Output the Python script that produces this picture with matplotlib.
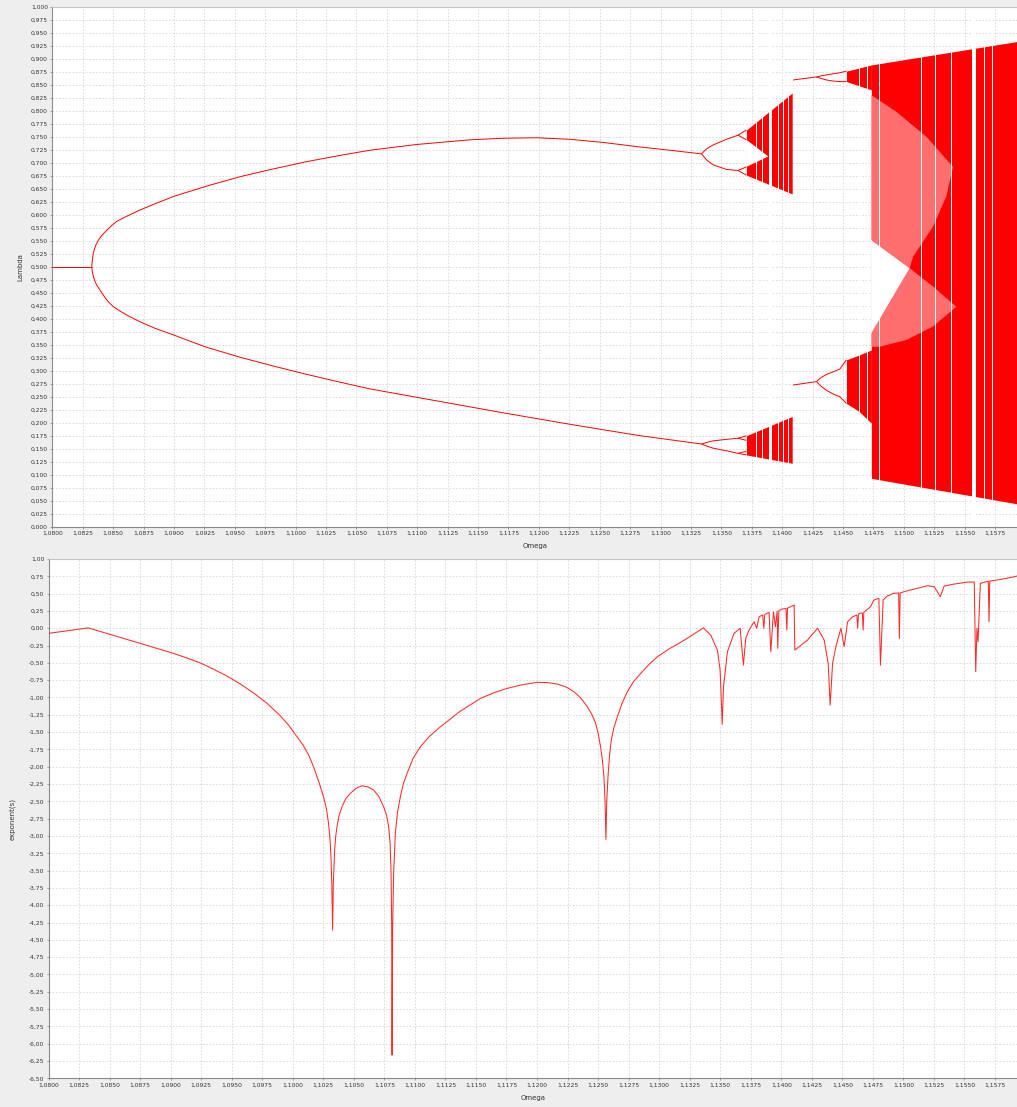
import matplotlib
matplotlib.use("Agg")
import matplotlib.pyplot as plt
from matplotlib.ticker import MultipleLocator, FuncFormatter

# ---------------- bifurcation diagram (Lambda vs Omega) ----------------
fixed_omega = [1.0800, 1.08324]
fixed_lam = [0.500, 0.500]

p2_up_omega = [1.08324, 1.08329, 1.08337, 1.08349, 1.08361, 1.08379, 1.08406, 1.08447,
               1.08488, 1.08529, 1.08598, 1.08721, 1.08844, 1.08995, 1.09269, 1.09542,
               1.09816, 1.10090, 1.10364, 1.10611, 1.10994, 1.11432, 1.11706, 1.11980,
               1.12254, 1.12528, 1.12802, 1.13076, 1.13336]
p2_up_lam = [0.500, 0.512, 0.526, 0.536, 0.543, 0.551, 0.560, 0.570,
             0.579, 0.587, 0.5955, 0.609, 0.621, 0.635, 0.655, 0.673,
             0.688, 0.702, 0.714, 0.724, 0.735, 0.744, 0.747, 0.748,
             0.745, 0.739, 0.731, 0.724, 0.717]
p2_lo_omega = [1.08324, 1.08329, 1.08338, 1.08349, 1.08365, 1.08392, 1.08423, 1.08455,
               1.08502, 1.08554, 1.08620, 1.08721, 1.08850, 1.08995, 1.09129, 1.09269,
               1.09542, 1.09816, 1.10090, 1.10364, 1.10611, 1.11159, 1.11706, 1.12254,
               1.12802, 1.13336]
p2_lo_lam = [0.500, 0.490, 0.481, 0.473, 0.465, 0.455, 0.444, 0.434,
             0.423, 0.415, 0.406, 0.394, 0.381, 0.369, 0.357, 0.345,
             0.326, 0.309, 0.293, 0.278, 0.265, 0.242, 0.219, 0.197,
             0.176, 0.159]

p4_omega = [1.13336, 1.13380, 1.13431, 1.13542, 1.13637]
p4_branches = [
    [0.717, 0.727, 0.734, 0.745, 0.753],
    [0.717, 0.705, 0.696, 0.687, 0.685],
    [0.159, 0.162, 0.165, 0.168, 0.170],
    [0.159, 0.155, 0.151, 0.146, 0.141],
]
p8_omega = [1.13637, 1.13706]
p8_branches = [
    [0.753, 0.763], [0.753, 0.744],
    [0.685, 0.692], [0.685, 0.676],
    [0.170, 0.175], [0.170, 0.166],
    [0.141, 0.145], [0.141, 0.138],
]

# first chaotic interval
band1_omega = [1.13706, 1.14082]
band1_up_hi = [0.763, 0.834]
band1_up_lo = [0.676, 0.640]
band1_dn_hi = [0.175, 0.212]
band1_dn_lo = [0.138, 0.122]
hole1_omega = [1.13706, 1.13706, 1.13886]
hole1_lam = [0.744, 0.692, 0.712]

# second periodic branch and its doubling
r2_omega = [1.14089, 1.14281]
r2_top = [0.859, 0.865]
r2_bot = [0.2725, 0.279]
lens_omega = [1.14281, 1.14320, 1.14366, 1.14420, 1.14473, 1.14528]
lens_top_hi = [0.865, 0.867, 0.869, 0.871, 0.873, 0.876]
lens_top_lo = [0.865, 0.862, 0.859, 0.857, 0.856, 0.856]
lens_bot_hi = [0.279, 0.287, 0.293, 0.298, 0.303, 0.321]
lens_bot_lo = [0.279, 0.270, 0.262, 0.255, 0.250, 0.237]

band2_omega = [1.14528, 1.14630, 1.14733]
band2_up_hi = [0.876, 0.882, 0.888]
band2_up_lo = [0.856, 0.848, 0.840]
band2_dn_hi = [0.321, 0.330, 0.340]
band2_dn_lo = [0.237, 0.222, 0.199]

# fully developed chaos
band3_omega = [1.14733, 1.15930]
band3_hi = [0.888, 0.933]
band3_lo = [0.093, 0.044]
wedge_omega = [1.14733, 1.15048, 1.14733]
wedge_lam = [0.551, 0.497, 0.372]

sparse_a_omega = [1.14733, 1.14938, 1.15185, 1.15404, 1.15349, 1.15239, 1.15075, 1.15048, 1.14733]
sparse_a_lam = [0.830, 0.798, 0.750, 0.692, 0.635, 0.577, 0.519, 0.497, 0.551]
sparse_b_omega = [1.14733, 1.15048, 1.15239, 1.15431, 1.15239, 1.15021, 1.14801, 1.14733]
sparse_b_lam = [0.372, 0.497, 0.462, 0.423, 0.385, 0.359, 0.346, 0.346]

# periodic windows inside the chaotic bands
window_start = [1.13784, 1.13833, 1.13892, 1.13962, 1.14003, 1.14044,
                1.14633, 1.14701, 1.14792, 1.15140, 1.15257, 1.15386,
                1.15557, 1.15660, 1.15728]
window_end = [1.13792, 1.13841, 1.13919, 1.13970, 1.14011, 1.14052,
              1.14641, 1.14709, 1.14800, 1.15148, 1.15265, 1.15394,
              1.15590, 1.15668, 1.15736]

# ---------------- Lyapunov exponent ----------------
lyap_omega = [
    1.08000, 1.08326, 1.08477, 1.08750, 1.09023, 1.09130, 1.09242, 1.09350, 1.09461,
    1.09570, 1.09679, 1.09790,
    1.09898, 1.09966, 1.10034, 1.10085, 1.10130, 1.10170, 1.10210, 1.10252, 1.10275,
    1.10293, 1.10305, 1.10313, 1.10320, 1.10326, 1.10332, 1.10343, 1.10352, 1.10362,
    1.10380, 1.10403, 1.10435, 1.10471, 1.10520, 1.10567, 1.10615, 1.10662, 1.10705,
    1.10744, 1.10768, 1.10785, 1.10797, 1.10805, 1.10810, 1.10813, 1.10818, 1.10826,
    1.10840, 1.10858, 1.10881, 1.10905, 1.10936, 1.10985, 1.11045, 1.11120, 1.11209,
    1.11370, 1.11537, 1.11650, 1.11756, 1.11880, 1.12002, 1.12090, 1.12166, 1.12240,
    1.12302, 1.12360, 1.12412, 1.12450, 1.12480, 1.12502, 1.12520, 1.12535, 1.12548,
    1.12557, 1.12564, 1.12571, 1.12581, 1.12593, 1.12608, 1.12630, 1.12658, 1.12695,
    1.12740, 1.12790, 1.12850, 1.12915, 1.12986, 1.13080, 1.13184, 1.13270, 1.13362,
    1.13422, 1.13477, 1.13499, 1.13510, 1.13516, 1.13527, 1.13559, 1.13613, 1.13663,
    1.13690, 1.13709, 1.13736, 1.13777, 1.13799, 1.13818, 1.13848, 1.13857, 1.13865,
    1.13900, 1.13914, 1.13936, 1.13952, 1.13966, 1.13971, 1.13980, 1.13999, 1.14039,
    1.14045, 1.14051, 1.14105, 1.14111, 1.14215, 1.14297, 1.14351, 1.14384, 1.14400,
    1.14420, 1.14447, 1.14488, 1.14515, 1.14543, 1.14584, 1.14619, 1.14625, 1.14632,
    1.14639, 1.14664, 1.14670, 1.14676, 1.14731, 1.14758, 1.14799, 1.14812, 1.14834,
    1.14867, 1.14920, 1.14961, 1.14967, 1.14973, 1.15034, 1.15089, 1.15198, 1.15252,
    1.15302, 1.15334, 1.15416, 1.15526, 1.15580, 1.15592, 1.15602, 1.15611, 1.15630,
    1.15679, 1.15695, 1.15701, 1.15707, 1.15799, 1.15908, 1.15930]
lyap_value = [
    -0.074, 0.005, -0.074, -0.218, -0.363, -0.428, -0.500, -0.590, -0.690,
    -0.805, -0.935, -1.085,
    -1.265, -1.400, -1.567, -1.690, -1.831, -2.000, -2.200, -2.434, -2.600,
    -2.818, -3.050, -3.300, -3.700, -4.359, -3.700, -3.200, -3.000, -2.867,
    -2.700, -2.578, -2.460, -2.385, -2.310, -2.275, -2.290, -2.337, -2.430,
    -2.578, -2.700, -2.867, -3.100, -3.540, -4.300, -6.164, -4.300, -3.540,
    -2.962, -2.650, -2.434, -2.250, -2.096, -1.880, -1.711, -1.560, -1.423,
    -1.200, -1.013, -0.930, -0.868, -0.815, -0.781, -0.786, -0.806, -0.850,
    -0.917, -1.010, -1.134, -1.250, -1.374, -1.530, -1.711, -1.900, -2.145,
    -2.500, -3.049, -2.500, -2.145, -1.850, -1.615, -1.430, -1.278, -1.090,
    -0.917, -0.770, -0.651, -0.525, -0.412, -0.300, -0.195, -0.100, 0.005,
    -0.098, -0.315, -0.604, -1.085, -1.388, -0.845, -0.339, -0.074, 0.000,
    -0.531, -0.146, -0.026, 0.094, 0.000, 0.166, 0.191, 0.000, 0.200,
    0.230, -0.339, 0.238, 0.020, 0.248, -0.290, 0.250, 0.273, 0.287,
    -0.026, 0.290, 0.335, -0.315, -0.170, 0.000, -0.170, -0.507, -1.109,
    -0.507, -0.267, 0.000, -0.267, 0.094, 0.166, 0.190, 0.000, 0.200,
    0.215, 0.220, -0.026, 0.230, 0.311, 0.407, 0.432, -0.531, 0.407,
    0.465, 0.504, 0.510, -0.146, 0.510, 0.542, 0.566, 0.614, 0.600,
    0.455, 0.610, 0.638, 0.667, 0.667, -0.628, 0.000, -0.195, 0.648,
    0.672, 0.680, 0.094, 0.680, 0.706, 0.744, 0.754]

OMEGA_MIN, OMEGA_MAX = 1.0800, 1.1593

RED = "#ff0000"
SPARSE = "#ff6f6f"
BG = "#eeeeee"
GRID = "#d6d6d6"
AXIS = "#8a8a8a"
TEXT = "#333333"

W, H = 1017, 1107
fig = plt.figure(figsize=(W / 100, H / 100), dpi=100, facecolor=BG)


def px_axes(left, top, right, bottom):
    return fig.add_axes([left / W, 1 - bottom / H, (right - left) / W, (bottom - top) / H])


def comma(decimals):
    def fmt(v, _pos):
        v = round(v, decimals)
        if v == 0:
            v = 0.0
        return f"{v:.{decimals}f}".replace(".", ",")
    return FuncFormatter(fmt)


def style(ax, ystep, ydec, ylabel, ylabel_x):
    ax.set_facecolor("white")
    ax.set_xlim(OMEGA_MIN, OMEGA_MAX)
    ax.xaxis.set_major_locator(MultipleLocator(0.0025))
    ax.yaxis.set_major_locator(MultipleLocator(ystep))
    ax.xaxis.set_major_formatter(comma(4))
    ax.yaxis.set_major_formatter(comma(ydec))
    ax.set_axisbelow(True)
    ax.grid(True, color=GRID, linestyle=(0, (2.0, 2.0)), linewidth=0.6)
    ax.spines["right"].set_visible(False)
    ax.spines["top"].set_color("#c4c4c4")
    ax.spines["top"].set_linewidth(0.8)
    for s in ("left", "bottom"):
        ax.spines[s].set_color(AXIS)
        ax.spines[s].set_linewidth(0.8)
    ax.tick_params(length=1.6, width=0.6, color=AXIS, labelsize=4.3,
                   labelcolor=TEXT, pad=1.6)
    ax.set_xlabel("Omega", fontsize=5.0, color=TEXT)
    ax.xaxis.set_label_coords(0.5, -0.037)
    ax.xaxis.label.set_va("center")
    ax.set_ylabel(ylabel, fontsize=5.0, color=TEXT)
    ax.yaxis.set_label_coords(ylabel_x, 0.5)
    ax.yaxis.label.set_va("center")


# ---- top panel ----
ax1 = px_axes(52.3, 6.7, 1017, 526.7)
style(ax1, 0.025, 3, "Lambda", -0.0335)
ax1.set_ylim(0.0, 1.0)

line_kw = dict(color=RED, linewidth=0.7, solid_capstyle="butt",
               solid_joinstyle="round", zorder=3)
ax1.plot(fixed_omega, fixed_lam, **line_kw)
ax1.plot(p2_up_omega, p2_up_lam, **line_kw)
ax1.plot(p2_lo_omega, p2_lo_lam, **line_kw)
for branch in p4_branches:
    ax1.plot(p4_omega, branch, **line_kw)
for branch in p8_branches:
    ax1.plot(p8_omega, branch, **line_kw)
ax1.plot(r2_omega, r2_top, **line_kw)
ax1.plot(r2_omega, r2_bot, **line_kw)
for branch in (lens_top_hi, lens_top_lo, lens_bot_hi, lens_bot_lo):
    ax1.plot(lens_omega, branch, **line_kw)

fill_kw = dict(color=RED, linewidth=0, zorder=2)
ax1.fill_between(band1_omega, band1_up_lo, band1_up_hi, **fill_kw)
ax1.fill_between(band1_omega, band1_dn_lo, band1_dn_hi, **fill_kw)
ax1.fill(hole1_omega, hole1_lam, color="white", linewidth=0, zorder=2.2)
ax1.fill_between(band2_omega, band2_up_lo, band2_up_hi, **fill_kw)
ax1.fill_between(band2_omega, band2_dn_lo, band2_dn_hi, **fill_kw)
ax1.fill_between(band3_omega, band3_lo, band3_hi, **fill_kw)
ax1.fill(sparse_a_omega, sparse_a_lam, color=SPARSE, linewidth=0, zorder=2.1)
ax1.fill(sparse_b_omega, sparse_b_lam, color=SPARSE, linewidth=0, zorder=2.1)
ax1.fill(wedge_omega, wedge_lam, color="white", linewidth=0, zorder=2.2)
for a, b in zip(window_start, window_end):
    ax1.axvspan(a, b, color="white", linewidth=0, zorder=2.3)

# ---- bottom panel ----
ax2 = px_axes(48.5, 559.0, 1017, 1078.3)
style(ax2, 0.25, 2, "exponent(s)", -0.0375)
ax2.set_ylim(-6.5, 1.0)
ax2.plot(lyap_omega, lyap_value, color="#ff2a2a", linewidth=0.75,
         solid_joinstyle="round", zorder=3)

fig.savefig("out.png", dpi=100, facecolor=BG)
